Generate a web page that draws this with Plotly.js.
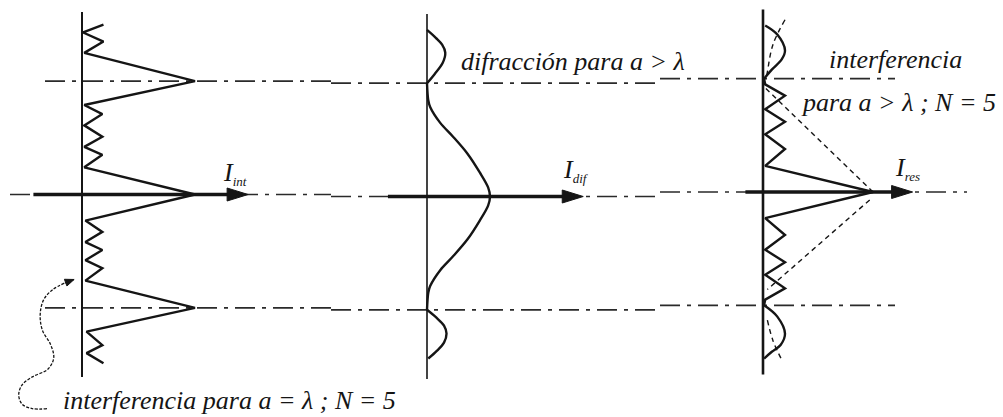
<!DOCTYPE html>
<html>
<head>
<meta charset="utf-8">
<script src="https://cdn.plot.ly/plotly-3.0.1.min.js"></script>
<style>
  html, body { margin: 0; padding: 0; background: #fff; }
  #chart { width: 1003px; height: 417px; }
</style>
</head>
<body>
<div id="chart"></div>
<script>
// Position along the screen in orders (principal maxima at u = -1, 0, 1); intensity normalised to 1.

// Interference, a = λ, N = 5
const intPosU = [1.50, 1.43, 1.35, 1.25, 1.00, 0.79, 0.71, 0.61, 0.51, 0.42, 0.35, 0.24, 0.00,
                 -0.23, -0.33, -0.42, -0.49, -0.58, -0.65, -0.76, -1.00, -1.21, -1.33, -1.40, -1.49];
const intI    = [0.19, 0.01, 0.19, 0.02, 1.00, 0.02, 0.18, 0.02, 0.18, 0.02, 0.18, 0.02, 1.00,
                 0.03, 0.18, 0.03, 0.18, 0.03, 0.18, 0.03, 1.00, 0.04, 0.18, 0.04, 0.19];

// Diffraction, a > λ
const difTopLobeU = [1.47, 1.40, 1.34, 1.27, 1.18, 1.08, 1.00];
const difTopLobeI = [0.00, 0.14, 0.24, 0.29, 0.25, 0.12, 0.00];
const difMainU = [1.00, 0.85, 0.79, 0.65, 0.53, 0.38, 0.21, 0.08, 0.00,
                  -0.08, -0.21, -0.38, -0.53, -0.65, -0.79, -0.85, -1.00];
const difMainI = [0.00, 0.02, 0.05, 0.21, 0.41, 0.64, 0.84, 0.97, 1.00,
                  0.97, 0.84, 0.64, 0.41, 0.21, 0.05, 0.02, 0.00];
const difBotLobeU = [-1.00, -1.07, -1.14, -1.21, -1.29, -1.36, -1.43];
const difBotLobeI = [0.00, 0.15, 0.27, 0.31, 0.27, 0.16, 0.02];

// Resulting pattern, a > λ, N = 5
const resTopLobeU = [1.47, 1.39, 1.25, 1.17, 1.08, 1.00];
const resTopLobeI = [0.02, 0.13, 0.20, 0.17, 0.08, 0.01];
const resCenterU = [1.00, 0.95, 0.85, 0.73, 0.62, 0.51, 0.38, 0.23, 0.00,
                    -0.23, -0.38, -0.51, -0.62, -0.73, -0.85, -0.95, -1.00];
const resCenterI = [0.01, 0.02, 0.20, 0.02, 0.20, 0.02, 0.20, 0.02, 1.00,
                    0.02, 0.20, 0.02, 0.20, 0.02, 0.20, 0.02, 0.01];
const resBotLobeU = [-1.00, -1.10, -1.25, -1.35, -1.41, -1.47];
const resBotLobeI = [0.01, 0.13, 0.20, 0.16, 0.08, 0.01];

// Diffraction envelope drawn dashed over the resulting pattern
const envUpperU = [0.00, 0.92];
const envUpperI = [1.00, 0.02];
const envLowerU = [-0.07, -0.86];
const envLowerI = [0.97, 0.04];
const envTopLobeU = [1.52, 1.30, 1.06, 1.00];
const envTopLobeI = [0.20, 0.09, 0.04, 0.03];
const envBotLobeU = [-1.13, -1.31, -1.50];
const envBotLobeI = [0.04, 0.09, 0.18];

// Curved pointer from the caption to the first panel
const pointerI = [-0.31, -0.44, -0.53, -0.56, -0.53, -0.44, -0.30, -0.25, -0.28, -0.35, -0.37, -0.34, -0.26, -0.15];
const pointerU = [-1.89, -1.89, -1.85, -1.77, -1.68, -1.61, -1.54, -1.44, -1.32, -1.20, -1.06, -0.93, -0.84, -0.78];
const pointerTip = [-0.07, -0.75];

// Orders marked with dash-dot lines
const orderLines = [1, 0, -1];

// ---- layout geometry ----
const W = 1003, H = 417;
const SY = 113.3;                       // pixels per order
const panels = [
  { zero: 82,  sx: 113, cy: 194.5, shaft: [-0.43, 1.47], axisW: 2.0, lineL: 45, lineR: 331, midL: 10 },
  { zero: 427, sx: 63,  cy: 196.5, shaft: [-0.62, 2.48], axisW: 1.6, lineL: 331, lineR: 660, midL: 331 },
  { zero: 763, sx: 110, cy: 192,   shaft: [-0.16, 1.36], axisW: 2.6, lineL: 660, lineR: 895, midL: 660, midR: 967 }
];
const axisSpan = 1.61;
const INK = '#151515';

const traces = [];
function addLine(p, u, I, opt) {
  const k = p === 0 ? '' : String(p + 1);
  traces.push(Object.assign({
    type: 'scatter', mode: 'lines', x: I, y: u,
    xaxis: 'x' + k, yaxis: 'y' + k, hoverinfo: 'skip'
  }, opt));
}

const solid = { color: INK, width: 2.4 };

// vertical axes and horizontal arrows
panels.forEach((pp, p) => {
  addLine(p, [axisSpan, -axisSpan], [0, 0], { line: { color: INK, width: pp.axisW } });
  const headL = 21 / pp.sx, headH = 6.5 / SY;
  const tip = pp.shaft[1];
  addLine(p, [0, 0], [pp.shaft[0], tip - headL * 0.6], { line: { color: INK, width: 3.4 } });
  addLine(p, [0, headH, -headH, 0], [tip, tip - headL, tip - headL, tip],
          { fill: 'toself', fillcolor: INK, line: { color: INK, width: 1 } });
});

// curves
addLine(0, intPosU, intI, { line: solid });
addLine(1, difTopLobeU, difTopLobeI, { line: Object.assign({ shape: 'spline', smoothing: 1 }, solid) });
addLine(1, difMainU, difMainI, { line: Object.assign({ shape: 'spline', smoothing: 0.9 }, solid) });
addLine(1, difBotLobeU, difBotLobeI, { line: Object.assign({ shape: 'spline', smoothing: 1 }, solid) });
addLine(2, resTopLobeU, resTopLobeI, { line: Object.assign({ shape: 'spline', smoothing: 1 }, solid) });
addLine(2, resCenterU, resCenterI, { line: solid });
addLine(2, resBotLobeU, resBotLobeI, { line: Object.assign({ shape: 'spline', smoothing: 1 }, solid) });

const dashed = { color: INK, width: 1.4, dash: '5px,4px' };
addLine(2, envUpperU, envUpperI, { line: dashed });
addLine(2, envLowerU, envLowerI, { line: dashed });
addLine(2, envTopLobeU, envTopLobeI, { line: Object.assign({ shape: 'spline' }, dashed) });
addLine(2, envBotLobeU, envBotLobeI, { line: Object.assign({ shape: 'spline' }, dashed) });

// pointer curve and its small arrowhead (computed in screen pixels of panel 1)
addLine(0, pointerU, pointerI, { line: { color: INK, width: 1.3, dash: '3px,1.5px', shape: 'spline', smoothing: 1 } });
(function () {
  const p0 = panels[0];
  const n = pointerI.length - 1;
  const tx = pointerTip[0] * p0.sx, ty = pointerTip[1] * SY;
  const fx = pointerI[n] * p0.sx, fy = pointerU[n] * SY;
  const d = Math.hypot(tx - fx, ty - fy);
  const ux = (tx - fx) / d, uy = (ty - fy) / d;
  const L = 9, hw = 3.6;
  const bx = tx - L * ux, by = ty - L * uy;
  const xs = [tx, bx - hw * uy, bx + hw * uy, tx].map(v => v / p0.sx);
  const ys = [ty, by + hw * ux, by - hw * ux, ty].map(v => v / SY);
  addLine(0, [fy / SY, ty / SY], [fx / p0.sx, tx / p0.sx], { line: { color: INK, width: 1.2 } });
  addLine(0, ys, xs, { fill: 'toself', fillcolor: INK, line: { color: INK, width: 1 } });
})();

// dash-dot order lines, one segment per panel
const shapes = [];
orderLines.forEach(u => {
  panels.forEach((pp, p) => {
    const k = p === 0 ? '' : String(p + 1);
    const x0 = u === 0 ? pp.midL : pp.lineL;
    const x1 = u === 0 ? (pp.midR || pp.lineR) : pp.lineR;
    shapes.push({
      type: 'line', xref: 'paper', yref: 'y' + k, layer: 'below',
      x0: x0 / W, x1: x1 / W, y0: u, y1: u,
      line: { color: '#2a2a2a', width: 1.7, dash: '20px,7px,4px,7px' }
    });
  });
});

const serif = 'Liberation Serif';
function label(text, xpx, ypx, size) {
  return {
    text: text, xref: 'paper', yref: 'paper', x: xpx / W, y: 1 - ypx / H,
    xanchor: 'left', yanchor: 'middle', showarrow: false,
    font: { family: serif, size: size, color: INK, style: 'italic' }
  };
}
const sub = s => '<sub><span style="font-size:13px">' + s + '</span></sub>';

const annotations = [
  label('I' + sub('int'), 221, 173, 26),
  label('I' + sub('dif'), 561, 170, 26),
  label('I' + sub('res'), 893, 169, 26),
  label('difracción para a > λ', 459, 62, 26),
  label('interferencia', 827, 59, 26),
  label('para a > λ ; N = 5', 799, 102, 26),
  label('interferencia para a = λ ; N = 5', 61, 400, 26)
];

const layout = {
  width: W, height: H,
  margin: { l: 0, r: 0, t: 0, b: 0 },
  paper_bgcolor: '#ffffff', plot_bgcolor: '#ffffff',
  showlegend: false,
  font: { family: serif },
  shapes: shapes,
  annotations: annotations
};
panels.forEach((pp, p) => {
  const k = p === 0 ? '' : String(p + 1);
  const ax = {
    range: [-pp.zero / pp.sx, (W - pp.zero) / pp.sx],
    visible: false, showgrid: false, zeroline: false, fixedrange: true,
    anchor: 'y' + k
  };
  const ay = {
    range: [(pp.cy - H) / SY, pp.cy / SY],
    visible: false, showgrid: false, zeroline: false, fixedrange: true,
    anchor: 'x' + k
  };
  if (p > 0) { ax.overlaying = 'x'; ay.overlaying = 'y'; }
  layout['xaxis' + k] = ax;
  layout['yaxis' + k] = ay;
});

Plotly.newPlot('chart', traces, layout, { staticPlot: true, displayModeBar: false });
</script>
</body>
</html>
